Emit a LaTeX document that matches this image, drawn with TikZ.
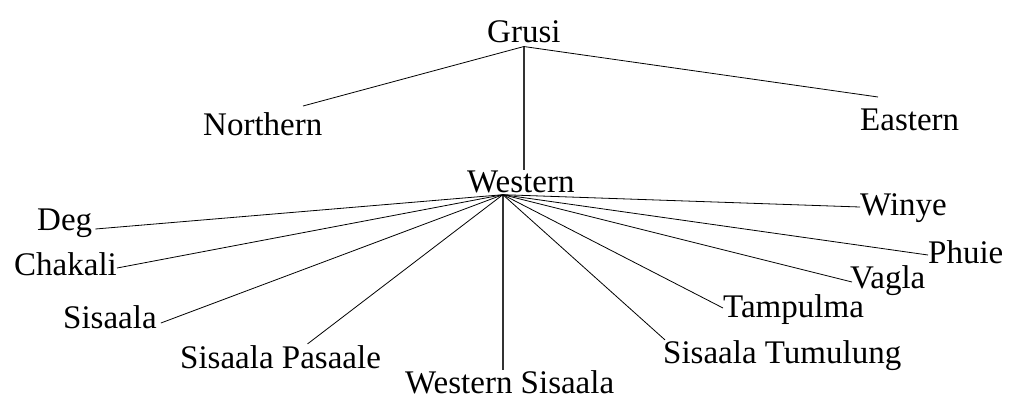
\documentclass[tikz,border=0pt]{standalone}
\usepackage{fontspec}
\setmainfont{Liberation Serif}

\begin{document}
\begin{tikzpicture}[x=1pt,y=-1pt,
	lang/.style={anchor=base west,inner sep=0pt,font=\fontsize{33}{36}\selectfont},
	branch/.style={draw=black,line width=0.8pt},
	stem/.style={draw=black!80,line width=2pt}]
	\useasboundingbox (0,0) rectangle (1012,400);
	\node[lang] (grusi) at (487,42) {Grusi};
	\node[lang] (northern) at (203,135) {Northern};
	\node[lang] (eastern) at (860,130) {Eastern};
	\node[lang] (western) at (467,192) {Western};
	\node[lang] (deg) at (37,230) {Deg};
	\node[lang] (chakali) at (14,275) {Chakali};
	\node[lang] (sisaala) at (63,328) {Sisaala};
	\node[lang] (pasaale) at (180,368) {Sisaala Pasaale};
	\node[lang] (wsisaala) at (405,393) {Western Sisaala};
	\node[lang] (tumulung) at (663,363) {Sisaala Tumulung};
	\node[lang] (tampulma) at (723,317) {Tampulma};
	\node[lang] (vagla) at (850,288) {Vagla};
	\node[lang] (phuie) at (928,263) {Phuie};
	\node[lang] (winye) at (860,215) {Winye};
	\coordinate (gj) at ([yshift=-4pt]grusi.south);
	\coordinate (wj) at ([xshift=-18pt,yshift=-2pt]western.south);
	\draw[branch] (gj) -- ([xshift=100pt,yshift=29pt]northern.base west);
	\draw[branch] (gj) -- ([xshift=18pt,yshift=33pt]eastern.base west);
	\draw[stem] (gj) -- (gj |- western.north);
	\draw[stem] (wj) -- (wj |- wsisaala.north);
	\draw[branch] (wj) -- ([xshift=3pt,yshift=1pt]deg.base east);
	\draw[branch] (wj) -- ([yshift=7pt]chakali.base east);
	\draw[branch] (wj) -- ([xshift=4pt,yshift=5pt]sisaala.base east);
	\draw[branch] (wj) -- ([xshift=27pt,yshift=1pt]pasaale.north);
	\draw[branch] (wj) -- ([xshift=2pt]tumulung.north west);
	\draw[branch] (wj) -- ([yshift=9pt]tampulma.base west);
	\draw[branch] (wj) -- ([xshift=2pt,yshift=6pt]vagla.base west);
	\draw[branch] (wj) -- ([yshift=8pt]phuie.base west);
	\draw[branch] (wj) -- ([yshift=8pt]winye.base west);
\end{tikzpicture}
\end{document}
